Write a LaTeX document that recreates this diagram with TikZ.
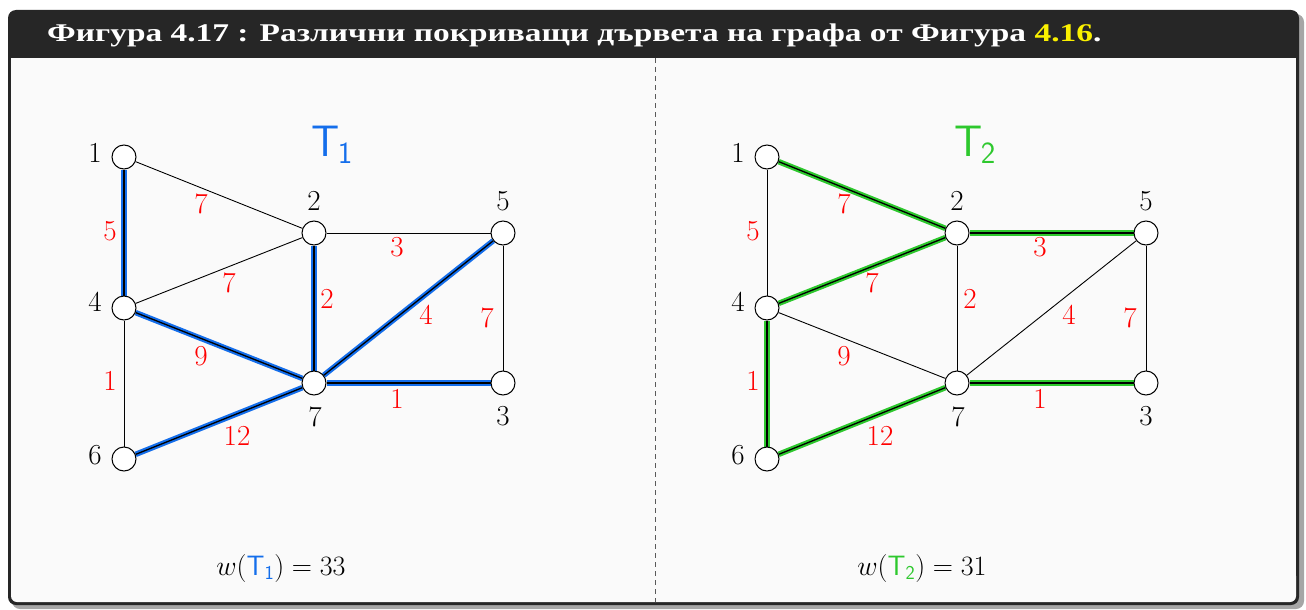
\RequirePackage{fix-cm}
\documentclass[tikz,border=0pt]{standalone}
\usepackage{fontspec}
\newfontfamily\titlefont[FakeStretch=1.31]{Liberation Serif}
\usetikzlibrary{backgrounds}
\definecolor{tblue}{RGB}{20,110,235}
\definecolor{tgreen}{RGB}{45,200,45}
\definecolor{framedark}{RGB}{38,38,38}
\definecolor{panelbg}{RGB}{250,250,250}
\definecolor{titleyellow}{RGB}{250,240,0}
\pgfdeclarelayer{frame}
\pgfdeclarelayer{edges}
\pgfsetlayers{frame,edges,main}
\begin{document}
\begin{tikzpicture}[x=1pt,y=-1pt,
  vert/.style={circle,draw,fill=white,line width=1pt,minimum size=24pt,inner sep=0pt},
  vlab/.style={font=\fontsize{29}{33}\selectfont, inner sep=0pt},
  wlab/.style={font=\fontsize{29}{33}\selectfont, text=red, inner sep=0pt},
  plain/.style={line width=0.9pt},
  tedgeA/.style={line width=1.3pt, preaction={draw,tblue,line width=5.5pt}},
  tedgeB/.style={line width=1.3pt, preaction={draw,tgreen,line width=5.5pt}},
  tlab/.style={font=\fontsize{44}{48}\selectfont, inner sep=0pt},
  wsum/.style={font=\fontsize{28}{32}\selectfont, inner sep=0pt},
]
\useasboundingbox (0,0) rectangle (1306,610);
\begin{pgfonlayer}{frame}
\fill[gray!70, rounded corners=8pt] (12,14) rectangle (1304,609);
\fill[framedark, rounded corners=8pt] (8,10) rectangle (1299,605);
\fill[panelbg] (11,58) rectangle (1296,590);
\fill[panelbg, rounded corners=6pt] (11,570) rectangle (1296,602);
\draw[dashed, dash pattern=on 5pt off 4pt, gray!70!black, line width=0.8pt] (655,58) -- (655,602);
\end{pgfonlayer}

\node[anchor=base west, text=white, font=\titlefont\bfseries\fontsize{25.5}{30}\selectfont, inner sep=0pt] (title) at (47,42)
  {Фигура 4.17 : Различни покриващи дървета на графа от Фигура \textcolor{titleyellow}{4.16}.};

% ---------- left graph ----------
\node[vert] (a1) at (124,157) {};
\node[vert] (a2) at (314,233) {};
\node[vert] (a5) at (503,233) {};
\node[vert] (a4) at (124,308) {};
\node[vert] (a7) at (314,383) {};
\node[vert] (a3) at (503,383) {};
\node[vert] (a6) at (124,459) {};
\node[vlab] (la1) at (95,153) {1};
\node[vlab] (la2) at (314,201) {2};
\node[vlab] (la5) at (503,201) {5};
\node[vlab] (la4) at (95,302) {4};
\node[vlab] (la7) at (315,417) {7};
\node[vlab] (la3) at (503,416) {3};
\node[vlab] (la6) at (95,455) {6};
\begin{pgfonlayer}{edges}
\draw[plain] (a1) -- (a2);
\draw[plain] (a2) -- (a4);
\draw[plain] (a2) -- (a5);
\draw[plain] (a5) -- (a3);
\draw[plain] (a4) -- (a6);
\draw[tedgeA] (a1) -- (a4);
\draw[tedgeA] (a2) -- (a7);
\draw[tedgeA] (a4) -- (a7);
\draw[tedgeA] (a7) -- (a5);
\draw[tedgeA] (a7) -- (a3);
\draw[tedgeA] (a6) -- (a7);
\end{pgfonlayer}
\node[wlab] (wa12) at (201,204) {7};
\node[wlab] (wa14) at (110,231) {5};
\node[wlab] (wa24) at (229,283) {7};
\node[wlab] (wa25) at (397,247) {3};
\node[wlab] (wa27) at (327,299) {2};
\node[wlab] (wa75) at (426,315) {4};
\node[wlab] (wa53) at (487,318) {7};
\node[wlab] (wa47) at (201,356) {9};
\node[wlab] (wa46) at (110,381) {1};
\node[wlab] (wa73) at (397,399) {1};
\node[wlab] (wa67) at (237,436) {12};
\node[tlab, text=tblue] (ta) at (332,145) {$\mathsf{T}_{\kern-1.5pt\mathsf{1}}$};
\node[wsum] (wa) at (281,568) {$w(\textcolor{tblue}{\mathsf{T}_{\mathsf{1}}}) = 33$};

% ---------- right graph ----------
\node[vert] (b1) at (767,157) {};
\node[vert] (b2) at (957,233) {};
\node[vert] (b5) at (1146,233) {};
\node[vert] (b4) at (767,308) {};
\node[vert] (b7) at (957,383) {};
\node[vert] (b3) at (1146,383) {};
\node[vert] (b6) at (767,459) {};
\node[vlab] (lb1) at (738,153) {1};
\node[vlab] (lb2) at (957,201) {2};
\node[vlab] (lb5) at (1146,201) {5};
\node[vlab] (lb4) at (738,302) {4};
\node[vlab] (lb7) at (958,417) {7};
\node[vlab] (lb3) at (1146,416) {3};
\node[vlab] (lb6) at (738,455) {6};
\begin{pgfonlayer}{edges}
\draw[plain] (b1) -- (b4);
\draw[plain] (b2) -- (b7);
\draw[plain] (b4) -- (b7);
\draw[plain] (b7) -- (b5);
\draw[plain] (b5) -- (b3);
\draw[tedgeB] (b1) -- (b2);
\draw[tedgeB] (b2) -- (b5);
\draw[tedgeB] (b2) -- (b4);
\draw[tedgeB] (b4) -- (b6);
\draw[tedgeB] (b6) -- (b7);
\draw[tedgeB] (b7) -- (b3);
\end{pgfonlayer}
\node[wlab] (wb12) at (844,204) {7};
\node[wlab] (wb14) at (753,231) {5};
\node[wlab] (wb24) at (872,283) {7};
\node[wlab] (wb25) at (1040,247) {3};
\node[wlab] (wb27) at (970,299) {2};
\node[wlab] (wb75) at (1069,315) {4};
\node[wlab] (wb53) at (1130,318) {7};
\node[wlab] (wb47) at (844,356) {9};
\node[wlab] (wb46) at (753,381) {1};
\node[wlab] (wb73) at (1040,399) {1};
\node[wlab] (wb67) at (880,436) {12};
\node[tlab, text=tgreen] (tb) at (975,145) {$\mathsf{T}_{\kern-1.5pt\mathsf{2}}$};
\node[wsum] (wb) at (922,568) {$w(\textcolor{tgreen}{\mathsf{T}_{\mathsf{2}}}) = 31$};
\end{tikzpicture}
\end{document}
